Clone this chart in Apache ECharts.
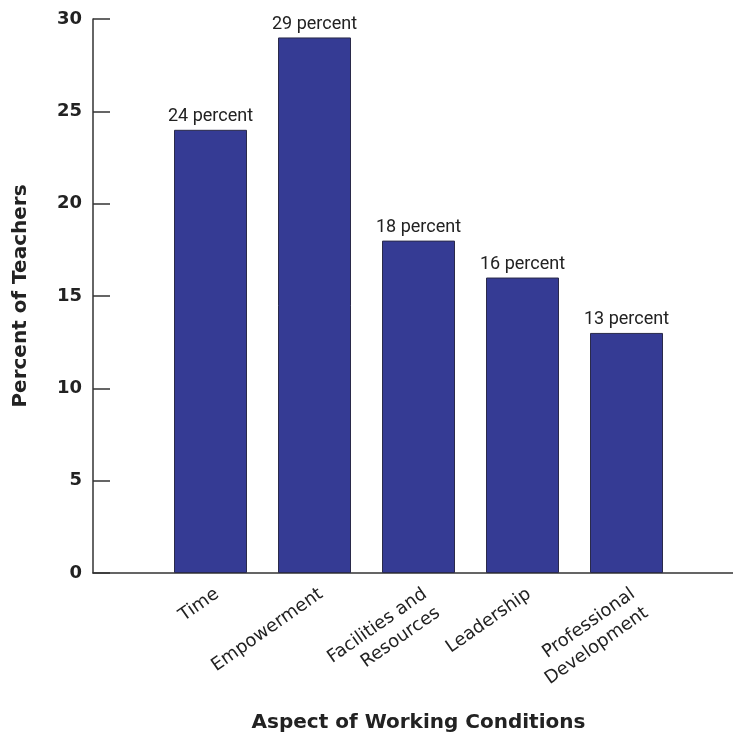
<!DOCTYPE html>
<html>
<head>
<meta charset="utf-8">
<script src="https://cdn.jsdelivr.net/npm/echarts@6/dist/echarts.min.js"></script>
<style>html,body{margin:0;padding:0;background:#fff;}#c{width:733px;height:740px;}</style>
</head>
<body>
<div id="c"></div>
<script>
const categories = ['Time', 'Empowerment', 'Facilities and\nResources', 'Leadership', 'Professional\nDevelopment'];
const values = [24, 29, 18, 16, 13];
const yMin = 0, yMax = 30, yStep = 5;
const xTitle = 'Aspect of Working Conditions';
const yTitle = 'Percent of Teachers';

const chart = echarts.init(document.getElementById('c'), null, {renderer: 'canvas'});
const axisColor = '#333';
chart.setOption({
  animation: false,
  backgroundColor: '#fff',
  grid: [
    {left: 93, right: 0, top: 19, bottom: 167, outerBoundsMode: 'none', containLabel: false},
    {left: 158.5, width: 520, top: 19, bottom: 167, outerBoundsMode: 'none', containLabel: false}
  ],
  xAxis: [
    {gridIndex: 0, type: 'value', min: 0, max: 1,
     axisLine: {show: true, lineStyle: {color: axisColor, width: 1.5}},
     axisTick: {show: false}, axisLabel: {show: false}, splitLine: {show: false}},
    {gridIndex: 1, type: 'category', data: categories,
     axisLine: {show: false}, axisTick: {show: false}, splitLine: {show: false},
     axisLabel: {rotate: 35, margin: 10, interval: 0, color: '#222', verticalAlign: 'top',
       fontFamily: 'DejaVu Sans', fontSize: 18, lineHeight: 23},
     name: xTitle, nameLocation: 'middle', nameGap: 140,
     nameTextStyle: {fontFamily: 'DejaVu Sans', fontWeight: 'bold', fontSize: 20, color: '#222'}}
  ],
  yAxis: [
    {gridIndex: 0, type: 'value', min: yMin, max: yMax, interval: yStep,
     axisLine: {show: true, lineStyle: {color: axisColor, width: 1.5}},
     axisTick: {show: true, inside: true, length: 17, lineStyle: {color: axisColor, width: 1.5}},
     axisLabel: {margin: 11, color: '#222', fontFamily: 'DejaVu Sans', fontWeight: 'bold', fontSize: 18},
     splitLine: {show: false},
     name: yTitle, nameLocation: 'middle', nameGap: 62,
     nameTextStyle: {fontFamily: 'DejaVu Sans', fontWeight: 'bold', fontSize: 20, color: '#222'}},
    {gridIndex: 1, type: 'value', min: yMin, max: yMax, show: false}
  ],
  series: [{
    type: 'bar', xAxisIndex: 1, yAxisIndex: 1, data: values, barWidth: 73,
    itemStyle: {color: '#353B94', borderColor: '#2a2a4a', borderWidth: 1},
    label: {show: true, position: 'top', distance: 4, formatter: '{c} percent',
      color: '#222', fontFamily: 'Roboto', fontSize: 18}
  }]
});
</script>
</body>
</html>
